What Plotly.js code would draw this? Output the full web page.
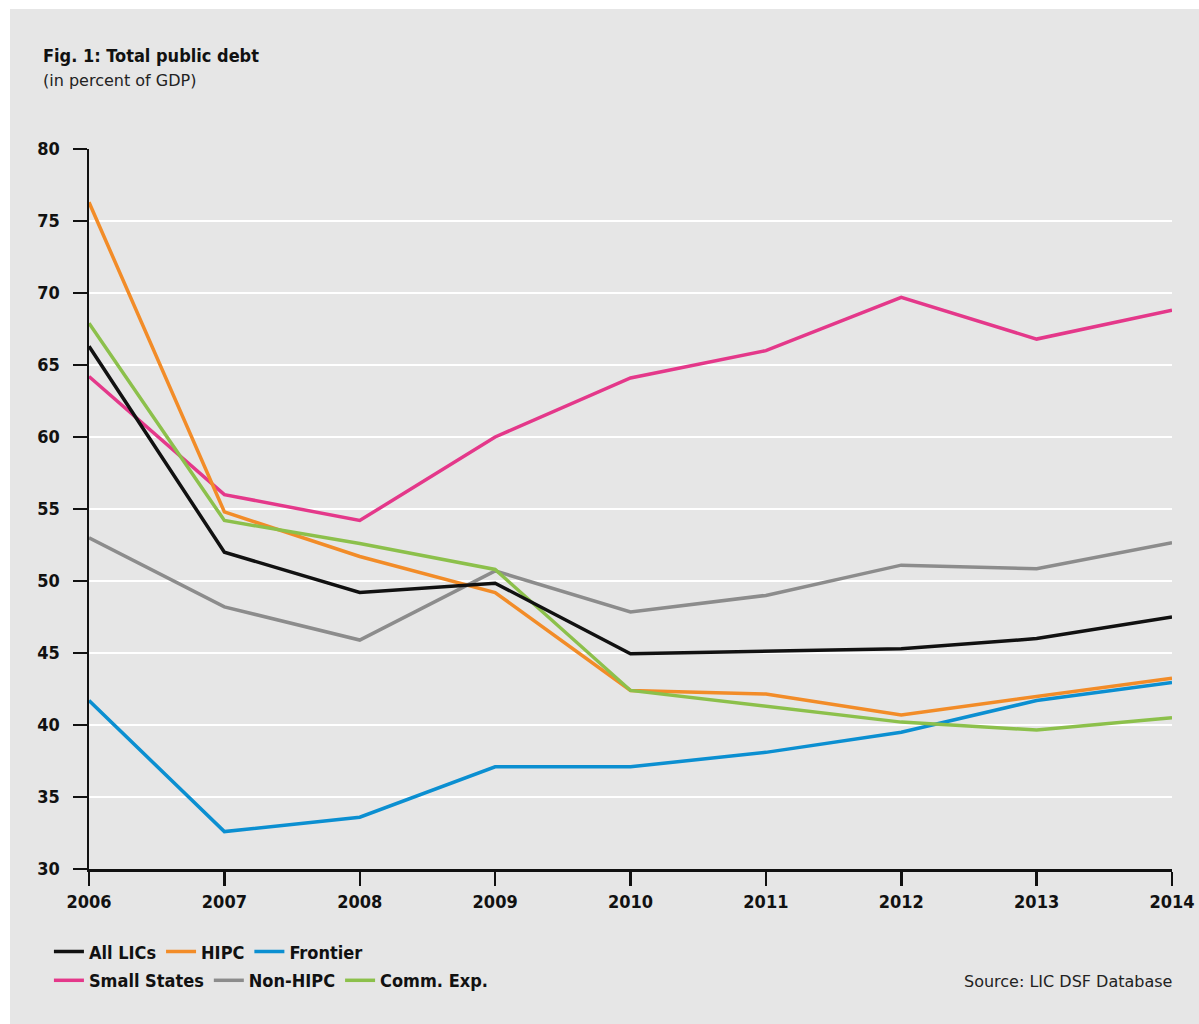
<!DOCTYPE html>
<html>
<head>
<meta charset="utf-8">
<script src="https://cdn.plot.ly/plotly-3.0.1.min.js"></script>
<style>
  html, body { margin: 0; padding: 0; background: #ffffff; }
  #chart { position: absolute; left: 10px; top: 9px; width: 1189px; height: 1015px; }
</style>
</head>
<body>
<div id="chart"></div>
<script>
const years = ['2006', '2007', '2008', '2009', '2010', '2011', '2012', '2013', '2014'];
const allLICs      = [66.3, 52.0, 49.2, 49.85, 44.95, 45.1, 45.3, 46.0, 47.5];
const hipc         = [76.3, 54.8, 51.7, 49.2, 42.4, 42.15, 40.7, 42.0, 43.25];
const frontier     = [41.7, 32.6, 33.6, 37.1, 37.1, 38.1, 39.5, 41.7, 42.95];
const smallStates  = [64.2, 56.0, 54.2, 60.0, 64.1, 66.0, 69.7, 66.8, 68.8];
const nonHIPC      = [53.0, 48.2, 45.9, 50.7, 47.85, 49.0, 51.1, 50.85, 52.65];
const commExp      = [67.9, 54.2, 52.6, 50.8, 42.4, 41.3, 40.2, 39.65, 40.5];
const yTicks = [30, 35, 40, 45, 50, 55, 60, 65, 70, 75, 80];

const FONT = '"Liberation Sans Narrow", "DejaVu Sans Condensed", "Roboto", sans-serif';
const FONT_REG = '"DejaVu Sans", "Noto Sans", sans-serif';
const LW = 3.5;

function tr(name, y, color, legend) {
  return {
    type: 'scatter', mode: 'lines', name: name, x: years, y: y,
    line: { color: color, width: LW },
    legend: legend, hoverinfo: 'skip'
  };
}

const data = [
  tr('Non-HIPC', nonHIPC, '#8c8c8c', 'legend2'),
  tr('Small States', smallStates, '#e4388a', 'legend2'),
  tr('Frontier', frontier, '#0b8fd1', 'legend'),
  tr('HIPC', hipc, '#f28c28', 'legend'),
  tr('Comm. Exp.', commExp, '#8cc04b', 'legend2'),
  tr('All LICs', allLICs, '#111111', 'legend')
];
data[5].legendrank = 1; data[3].legendrank = 2; data[2].legendrank = 3;
data[1].legendrank = 1; data[0].legendrank = 2; data[4].legendrank = 3;

const legendFont = { family: FONT, size: 18, color: '#111111', weight: 700 };

const layout = {
  width: 1189, height: 1015,
  paper_bgcolor: '#e6e6e6', plot_bgcolor: '#e6e6e6',
  margin: { l: 79, r: 27, t: 140, b: 155 },
  font: { family: FONT, color: '#111111' },
  showlegend: true,
  xaxis: {
    type: 'category', range: [0, 8], tickvals: years, ticktext: years,
    showline: true, linecolor: '#111111', linewidth: 2.5,
    ticks: 'outside', ticklen: 14, tickwidth: 2.5, tickcolor: '#111111',
    showgrid: false, zeroline: false, fixedrange: true,
    tickfont: { family: FONT, size: 18, color: '#111111', weight: 700 },
    ticklabelstandoff: 1
  },
  yaxis: {
    range: [30, 80], tickvals: yTicks,
    showline: true, linecolor: '#111111', linewidth: 2.5,
    ticks: 'outside', ticklen: 14, tickwidth: 2.5, tickcolor: '#111111',
    showgrid: true, gridcolor: '#ffffff', gridwidth: 2,
    zeroline: false, fixedrange: true,
    tickfont: { family: FONT, size: 18, color: '#111111', weight: 700 },
    ticklabelstandoff: 9
  },
  legend: {
    orientation: 'h', x: -0.037, xanchor: 'left', y: -0.115, yanchor: 'middle',
    bgcolor: 'rgba(0,0,0,0)', font: legendFont, traceorder: 'normal',
    itemclick: false, itemdoubleclick: false
  },
  legend2: {
    orientation: 'h', x: -0.037, xanchor: 'left', y: -0.155, yanchor: 'middle',
    bgcolor: 'rgba(0,0,0,0)', font: legendFont, traceorder: 'normal',
    itemclick: false, itemdoubleclick: false
  },
  annotations: [
    { text: 'Fig. 1: Total public debt', xref: 'paper', yref: 'paper', x: 0, y: 1,
      xanchor: 'left', yanchor: 'middle', xshift: -48, yshift: 94, showarrow: false,
      font: { family: FONT, size: 18, color: '#111111', weight: 700 } },
    { text: '(in percent of GDP)', xref: 'paper', yref: 'paper', x: 0, y: 1,
      xanchor: 'left', yanchor: 'middle', xshift: -48, yshift: 69, showarrow: false,
      font: { family: FONT_REG, size: 16, color: '#222222' } },
    { text: 'Source: LIC DSF Database', xref: 'paper', yref: 'paper', x: 1, y: 0,
      xanchor: 'right', yanchor: 'middle', xshift: 2, yshift: -112, showarrow: false,
      font: { family: FONT_REG, size: 16, color: '#222222' } }
  ]
};

Plotly.newPlot('chart', data, layout, { displayModeBar: false, staticPlot: true });
</script>
</body>
</html>
